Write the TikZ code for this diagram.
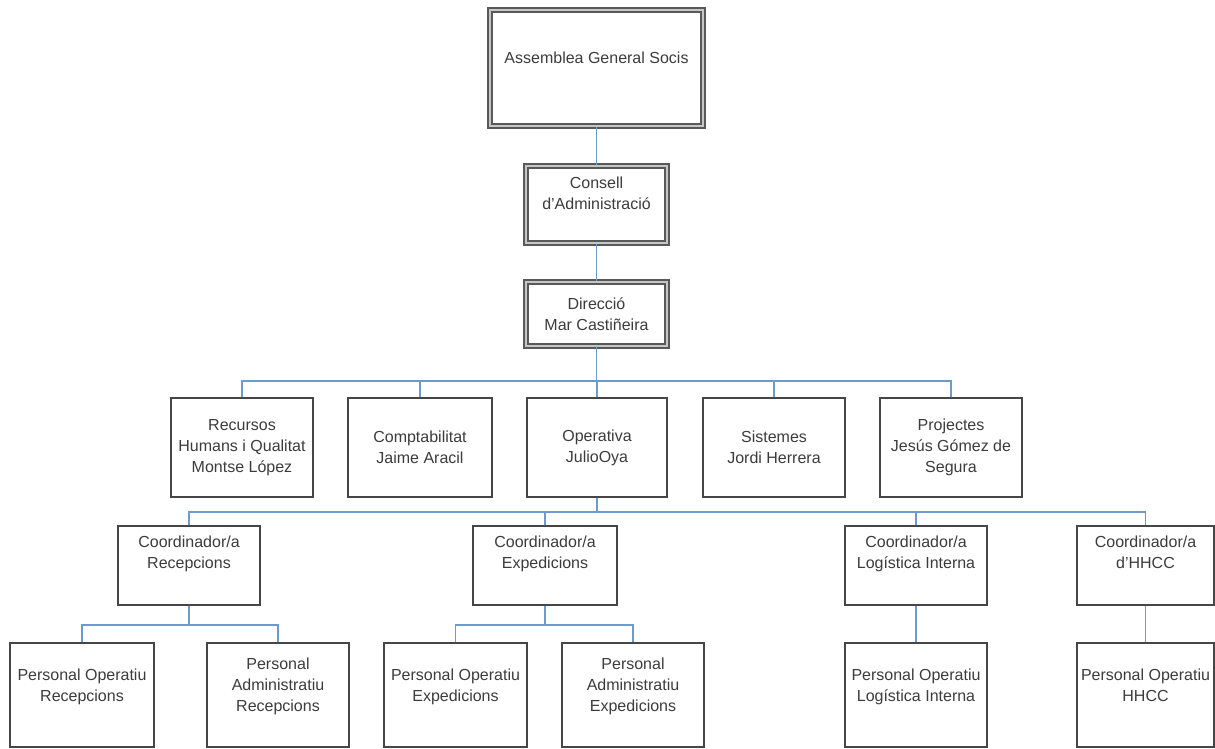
\documentclass[tikz,border=0pt]{standalone}
\usepackage{fontspec}
\setmainfont{Liberation Sans}
\definecolor{boxline}{RGB}{70,70,70}
\definecolor{boxtext}{RGB}{60,60,60}
\definecolor{linkblue}{RGB}{110,155,205}
\tikzset{
  box/.style={draw=boxline, line width=1.4pt, fill=white, align=center, inner sep=2pt,
    text=boxtext, font=\fontsize{16}{21}\selectfont},
  headbox/.style={box, draw=gray!70!black, double=gray!45, double distance=2pt, line width=1.6pt},
  areabox/.style={box, minimum height=99pt},
  coordbox/.style={box, minimum height=79pt, text depth=26pt},
  staffbox/.style={box, minimum height=104pt, text depth=20pt},
  link/.style={draw=linkblue, line width=1.4pt},
}
\begin{document}
\begin{tikzpicture}[x=1pt, y=-1pt]
  \useasboundingbox (0,0) rectangle (1215,749);

  % govern
  \node[headbox, minimum width=213pt, minimum height=116pt, text depth=20pt] (asm) at (596.5,68) {Assemblea General Socis};
  \node[headbox, minimum width=141pt, minimum height=77pt, text depth=23pt] (cons) at (596.5,204.5) {Consell\\d'Administració};
  \node[headbox, minimum width=141pt, minimum height=64pt] (dir) at (596.5,314) {Direcció\\Mar Castiñeira};

  % arees
  \node[areabox, minimum width=142pt] (rh) at (242,447.5) {Recursos\\Humans i Qualitat\\Montse López};
  \node[areabox, minimum width=144pt] (comp) at (420,447.5) {Comptabilitat\\Jaime Aracil};
  \node[areabox, minimum width=140pt] (ope) at (597,447.5) {Operativa\\JulioOya};
  \node[areabox, minimum width=142pt] (sis) at (774,447.5) {Sistemes\\Jordi Herrera};
  \node[areabox, minimum width=142pt] (proj) at (951,447.5) {Projectes\\Jesús Gómez de\\Segura};

  % coordinacio
  \node[coordbox, minimum width=142pt] (crec) at (189,565.5) {Coordinador/a\\Recepcions};
  \node[coordbox, minimum width=144pt] (cexp) at (545,565.5) {Coordinador/a\\Expedicions};
  \node[coordbox, minimum width=142pt] (clog) at (916,565.5) {Coordinador/a\\Logística Interna};
  \node[coordbox, minimum width=137pt] (chh) at (1145.5,565.5) {Coordinador/a\\d'HHCC};

  % personal
  \node[staffbox, minimum width=144pt] (porec) at (82,695) {Personal Operatiu\\Recepcions};
  \node[staffbox, minimum width=142pt] (parec) at (278,695) {Personal\\Administratiu\\Recepcions};
  \node[staffbox, minimum width=143pt] (poexp) at (455.5,695) {Personal Operatiu\\Expedicions};
  \node[staffbox, minimum width=142pt] (paexp) at (633,695) {Personal\\Administratiu\\Expedicions};
  \node[staffbox, minimum width=142pt] (polog) at (916,695) {Personal Operatiu\\Logística Interna};
  \node[staffbox, minimum width=137pt] (pohh) at (1145.5,695) {Personal Operatiu\\HHCC};

  % linies
  \coordinate (bus2) at (0,381);
  \coordinate (bus3) at (0,512);
  \coordinate (bus4) at (0,625);
  \draw[link] (asm) -- (cons);
  \draw[link] (cons) -- (dir);
  \foreach \n in {rh,comp,ope,sis,proj}
    \draw[link] (dir.south) |- (bus2 -| \n) -- (\n.north);
  \foreach \n in {crec,cexp,clog,chh}
    \draw[link] (ope.south) |- (bus3 -| \n) -- (\n.north);
  \foreach \n in {porec,parec}
    \draw[link] (crec.south) |- (bus4 -| \n) -- (\n.north);
  \foreach \n in {poexp,paexp}
    \draw[link] (cexp.south) |- (bus4 -| \n) -- (\n.north);
  \draw[link] (clog) -- (polog);
  \draw[link] (chh) -- (pohh);
\end{tikzpicture}
\end{document}
